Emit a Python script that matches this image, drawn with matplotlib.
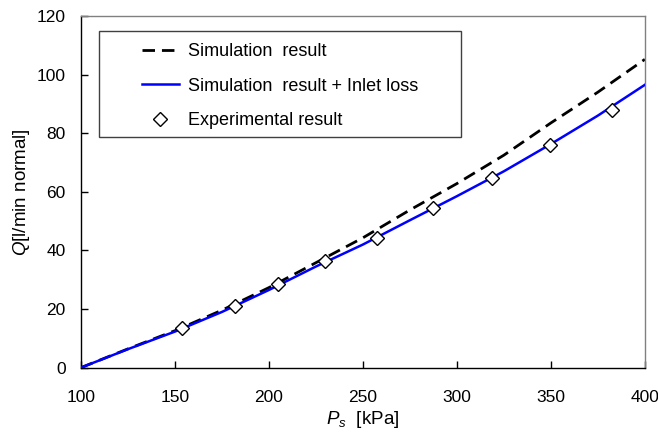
import matplotlib.pyplot as plt
from matplotlib.patches import Rectangle
from matplotlib.lines import Line2D

plt.rcParams['font.family'] = ['Liberation Sans', 'DejaVu Sans']
plt.rcParams['font.size'] = 12
plt.rcParams['mathtext.fontset'] = 'custom'
plt.rcParams['mathtext.rm'] = 'Liberation Sans'
plt.rcParams['mathtext.it'] = 'Liberation Sans:italic'

# 数据
ps_sim = [100, 125, 150, 175, 200, 225, 250, 275, 300, 325, 350, 375, 400]
q_sim = [0, 6.4, 12.6, 19.6, 27.3, 35.8, 44.3, 53.8, 62.8, 72.5, 83.5, 94.0, 105.2]
q_sim_inlet = [0, 6.3, 12.3, 19.0, 26.5, 34.5, 42.0, 50.3, 58.5, 67.0, 76.3, 86.0, 96.5]

ps_exp = [153.7, 181.9, 204.8, 229.8, 257.4, 287.2, 318.6, 349.5, 382.4]
q_exp = [13.4, 20.9, 28.4, 36.3, 44.3, 54.5, 64.6, 76.1, 88.0]

labels = ['Simulation  result', 'Simulation  result + Inlet loss', 'Experimental result']

dash = (0, (4.5, 2.5))

fig = plt.figure(figsize=(6.58, 4.32), dpi=100)
ax = fig.add_axes([0.123, 0.149, 0.857, 0.814])

ax.plot(ps_sim, q_sim, color='black', lw=2, linestyle=dash, zorder=2)
ax.plot(ps_sim, q_sim_inlet, color='#0000ff', lw=1.8, zorder=3)
ax.plot(ps_exp, q_exp, linestyle='none', marker='D', markersize=7,
        markerfacecolor='white', markeredgecolor='black', markeredgewidth=1, zorder=4)

ax.set_xlim(100, 400)
ax.set_ylim(0, 120)
ax.set_xticks(range(100, 401, 50))
ax.set_yticks(range(0, 121, 20))
ax.tick_params(direction='in', length=5, width=1, top=False, right=False, labelsize=12.5)
ax.tick_params(axis='x', pad=16)
ax.tick_params(axis='y', pad=11)

for s in ['top', 'right']:
    ax.spines[s].set_color('#808080')
for s in ['left', 'bottom']:
    ax.spines[s].set_color('black')
for s in ax.spines.values():
    s.set_linewidth(1)

ax.set_xlabel(r'$P_s$  [kPa]', fontsize=13.5, labelpad=3)
ax.set_ylabel(r'$Q$[l/min normal]', fontsize=13.5, labelpad=3)

# 图例框 + 无框图例
ax.add_patch(Rectangle((0.032, 0.656), 0.642, 0.301, transform=ax.transAxes,
                       facecolor='white', edgecolor='#404040', lw=1, zorder=5))
handles = [
    Line2D([], [], color='black', lw=2, linestyle=dash),
    Line2D([], [], color='#0000ff', lw=1.8),
    Line2D([], [], linestyle='none', marker='D', markersize=7,
           markerfacecolor='white', markeredgecolor='black'),
]
leg = ax.legend(handles, labels, loc='upper left', bbox_to_anchor=(0.109, 0.923),
                frameon=False, borderpad=0, borderaxespad=0, handlelength=2.0,
                handletextpad=0.55, labelspacing=0.98, fontsize=13)
leg.set_zorder(6)

plt.savefig('out.png', dpi=100)
